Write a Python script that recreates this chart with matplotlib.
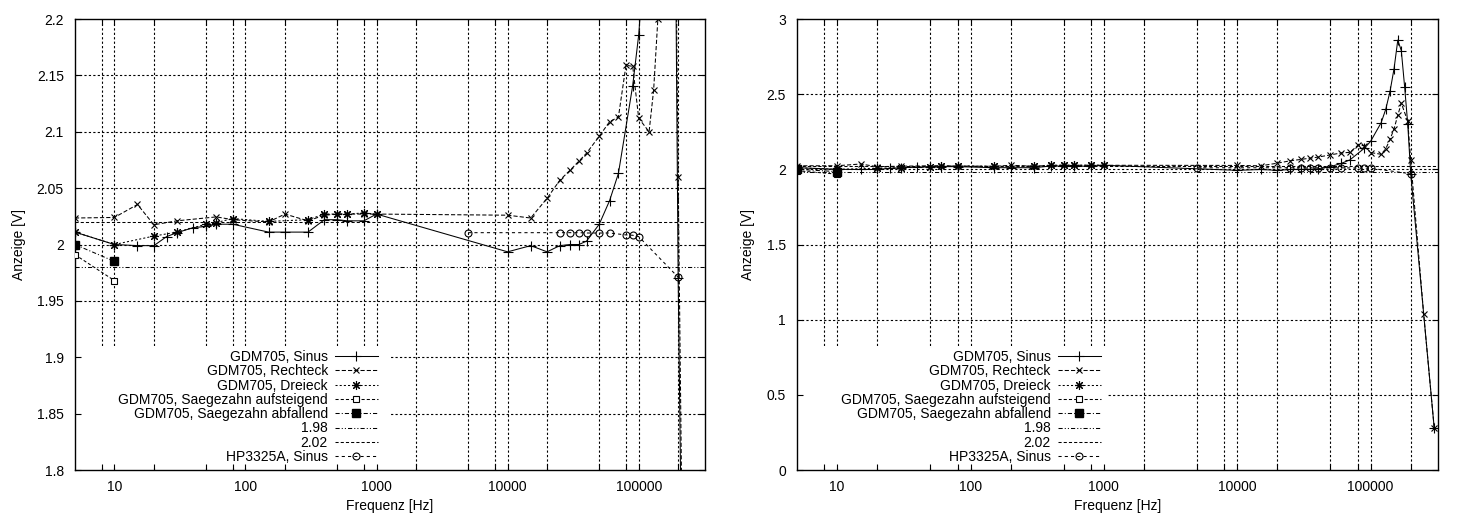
import matplotlib
matplotlib.use("Agg")
import matplotlib.pyplot as plt
from matplotlib.patches import Rectangle

plt.rcParams['font.family'] = ['Liberation Sans', 'DejaVu Sans']

# GDM705 measurements, frequency [Hz] -> reading [V]
sinus_f = [5, 10, 15, 20, 25, 30, 40, 50, 60, 80, 150, 200, 300, 400, 500, 600, 800, 1000,
           10000, 15000, 20000, 25000, 30000, 35000, 40000, 50000, 60000, 70000, 90000,
           100000, 120000, 130000, 140000, 150000, 160000, 170000, 180000, 190000, 200000, 300000]
sinus_v = [2.011, 2.000, 1.999, 1.999, 2.007, 2.0105, 2.015, 2.016, 2.018, 2.018, 2.011, 2.011,
           2.011, 2.022, 2.022, 2.021, 2.021, 2.027, 1.9935, 1.999, 1.9935, 1.999, 2.000, 2.000,
           2.003, 2.018, 2.039, 2.063, 2.141, 2.186, 2.31, 2.40, 2.52, 2.67, 2.86, 2.79, 2.55,
           2.30, 1.97, 0.28]

rechteck_f = [5, 10, 15, 20, 30, 60, 80, 150, 200, 300, 400, 500, 600, 800, 1000,
              10000, 15000, 20000, 25000, 30000, 35000, 40000, 50000, 60000, 70000, 80000,
              90000, 100000, 120000, 130000, 140000, 150000, 160000, 170000, 190000, 200000,
              250000, 300000]
rechteck_v = [2.0235, 2.024, 2.0355, 2.0175, 2.021, 2.0245, 2.022, 2.020, 2.027, 2.021, 2.026,
              2.027, 2.027, 2.027, 2.027, 2.026, 2.0235, 2.041, 2.057, 2.066, 2.074, 2.081,
              2.096, 2.109, 2.113, 2.159, 2.158, 2.112, 2.100, 2.137, 2.20, 2.27, 2.36, 2.44,
              2.32, 2.06, 1.04, 0.28]

dreieck_f = [5, 10, 20, 30, 50, 60, 80, 150, 300, 400, 500, 600, 800, 1000]
dreieck_v = [2.011, 2.000, 2.0075, 2.011, 2.018, 2.0195, 2.023, 2.0205, 2.022, 2.027, 2.027,
             2.027, 2.028, 2.027]

saege_auf_f = [5, 10]
saege_auf_v = [1.991, 1.968]
saege_ab_f = [5, 10]
saege_ab_v = [2.000, 1.985]

hp_f = [5000, 25000, 30000, 35000, 40000, 50000, 60000, 80000, 90000, 100000, 200000]
hp_v = [2.0105, 2.0105, 2.0105, 2.0105, 2.0102, 2.0102, 2.0102, 2.0085, 2.0082, 2.007, 1.971]

ref_low = 1.98
ref_high = 2.02

xtick_pos = [8, 10, 20, 50, 80, 100, 200, 500, 800, 1000, 2000, 5000, 8000, 10000,
             20000, 50000, 80000, 100000, 200000]
xtick_lab = ['' if p not in (10, 100, 1000, 10000, 100000) else str(p) for p in xtick_pos]


def draw(ax, ylim, ystep, box_w, key_x):
    grid = dict(color='black', lw=0.8, ls=(0, (2, 2)), zorder=0.5)
    for p in xtick_pos:
        ax.axvline(p, **grid)
    y = ylim[0] + ystep
    while y < ylim[1] - 1e-9:
        ax.axhline(y, **grid)
        y += ystep

    lw = 0.75
    ax.plot(sinus_f, sinus_v, color='black', lw=lw, marker='+', ms=6.5, mew=0.8,
            label='GDM705, Sinus', zorder=3)
    ax.plot(rechteck_f, rechteck_v, color='black', lw=lw, ls=(0, (4, 2)), marker='x', ms=5,
            mew=0.8, label='GDM705, Rechteck', zorder=3)
    ax.plot(dreieck_f, dreieck_v, color='black', lw=lw, ls=(0, (2, 2)), marker=(8, 2, 0),
            ms=6.5, mew=0.8, label='GDM705, Dreieck', zorder=3)
    ax.plot(saege_auf_f, saege_auf_v, color='black', lw=lw, ls=(0, (3, 2)), marker='s',
            ms=5, mfc='white', mew=0.8, label='GDM705, Saegezahn aufsteigend', zorder=3)
    ax.plot(saege_ab_f, saege_ab_v, color='black', lw=lw, ls=(0, (4, 2, 1, 2)), marker='s',
            ms=5.5, mfc='black', label='GDM705, Saegezahn abfallend', zorder=3)
    ax.axhline(ref_low, color='black', lw=lw, ls=(0, (4, 2, 1, 2, 1, 2)),
               label=str(ref_low), zorder=3)
    ax.axhline(ref_high, color='black', lw=lw, ls=(0, (3, 2)),
               label=str(ref_high), zorder=3)
    ax.plot(hp_f, hp_v, color='black', lw=lw, ls=(0, (3, 3)), marker='o', ms=5,
            mfc='none', mew=0.8, label='HP3325A, Sinus', zorder=3)

    # opaque key area
    ax.add_patch(Rectangle((0, 0.005), box_w, 0.27, transform=ax.transAxes,
                           facecolor='white', edgecolor='none', zorder=1))

    ax.set_xscale('log')
    ax.set_xlim(5, 320000)
    ax.set_ylim(*ylim)
    ax.set_xticks(xtick_pos)
    ax.set_xticklabels(xtick_lab)
    ax.minorticks_off()
    ax.tick_params(direction='in', top=True, right=True, length=4, width=0.8,
                   labelsize=10, pad=8)
    ax.tick_params(axis='x', pad=7)
    for s in ax.spines.values():
        s.set_linewidth(1.0)
    ax.set_xlabel('Frequenz [Hz]', fontsize=10, labelpad=4)
    ax.set_ylabel('Anzeige [V]', fontsize=10, labelpad=8)
    ax.legend(loc='upper right', bbox_to_anchor=(key_x, 0.266), frameon=False,
              markerfirst=False, fontsize=10, handlelength=3.1, handletextpad=0.5,
              labelspacing=0.02, borderpad=0, borderaxespad=0)


fig = plt.figure(figsize=(14.64, 5.14), dpi=100)
ax1 = fig.add_axes([0.0512, 0.0856, 0.4303, 0.8774])
ax2 = fig.add_axes([0.5444, 0.0856, 0.4378, 0.8774])

draw(ax1, (1.8, 2.2), 0.05, 0.50, 0.481)
ax1.set_yticks([1.8, 1.85, 1.9, 1.95, 2.0, 2.05, 2.1, 2.15, 2.2])
ax1.set_yticklabels(['1.8', '1.85', '1.9', '1.95', '2', '2.05', '2.1', '2.15', '2.2'])

draw(ax2, (0, 3), 0.5, 0.485, 0.474)
ax2.set_yticks([0, 0.5, 1, 1.5, 2, 2.5, 3])
ax2.set_yticklabels(['0', '0.5', '1', '1.5', '2', '2.5', '3'])

fig.savefig('out.png', dpi=100)
